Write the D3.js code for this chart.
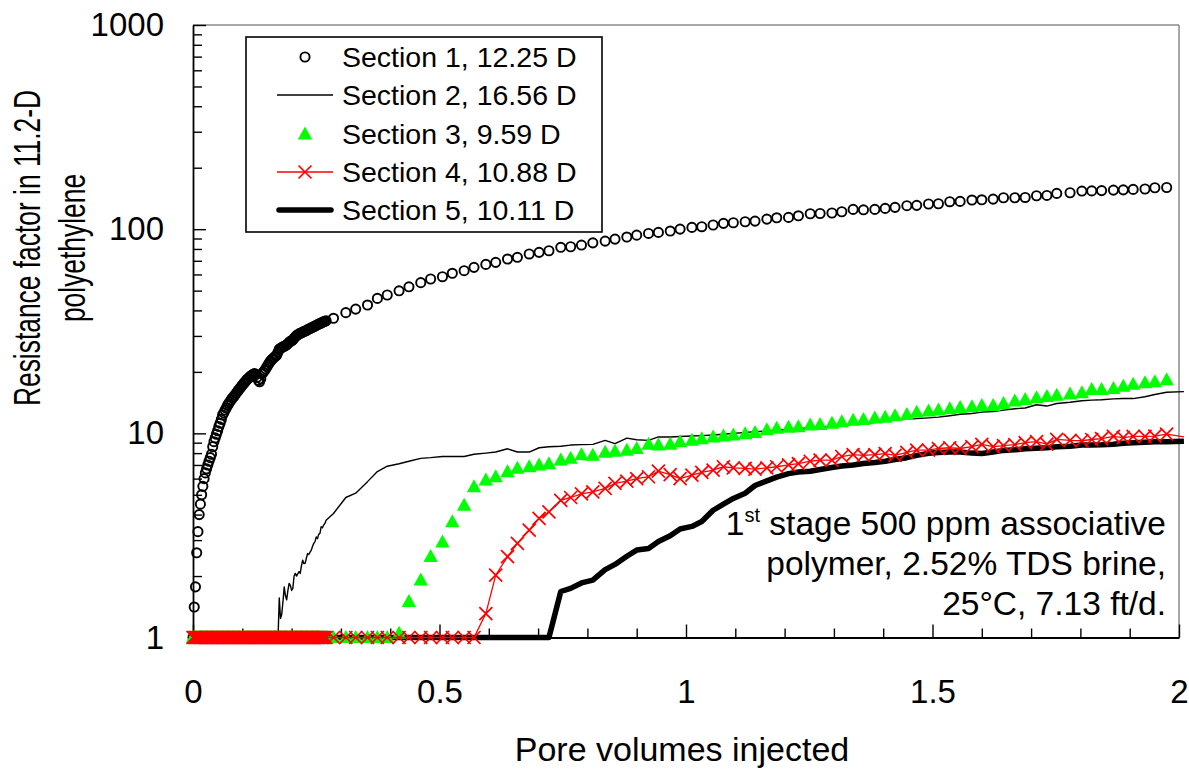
<!DOCTYPE html>
<html>
<head>
<meta charset="utf-8">
<script src="https://cdn.jsdelivr.net/npm/d3@7"></script>
<style>
  html, body { margin: 0; padding: 0; background: #fff; }
  svg { display: block; font-family: "Liberation Sans", Arial, sans-serif; }
</style>
</head>
<body>
<svg id="chart" width="1189" height="774"></svg>
<script>
// ---------------- DATA ----------------
const seriesNames = ["Section 1, 12.25 D", "Section 2, 16.56 D", "Section 3, 9.59 D", "Section 4, 10.88 D", "Section 5, 10.11 D"];
const xTickValues = [0, 0.5, 1, 1.5, 2];
const xTickLabels = ["0", "0.5", "1", "1.5", "2"];
const yTickValues = [1, 10, 100, 1000];
const yTickLabels = ["1", "10", "100", "1000"];
const xTitle = "Pore volumes injected";
const yTitleLines = ["Resistance factor in 11.2-D", "polyethylene"];
const noteLines = ["stage 500 ppm associative", "polymer, 2.52% TDS brine,", "25°C, 7.13 ft/d."];

// pore volumes: early, densely logged part
const pvEarly = [
  0,0.0025,0.005,0.0075,0.01,0.0125,0.015,0.0175,0.02,0.0225,
  0.025,0.0275,0.03,0.0325,0.035,0.0375,0.04,0.0425,0.045,0.0475,
  0.05,0.0525,0.055,0.0575,0.06,0.0625,0.065,0.0675,0.07,0.0725,
  0.075,0.0775,0.08,0.0825,0.085,0.0875,0.09,0.0925,0.095,0.0975,
  0.1,0.1025,0.105,0.1075,0.11,0.1125,0.115,0.1175,0.12,0.1225,
  0.125,0.1275,0.13,0.1325,0.135,0.1375,0.14,0.1425,0.145,0.1475,
  0.15,0.1525,0.155,0.1575,0.16,0.1625,0.165,0.1675,0.17,0.1725,
  0.175,0.1775,0.18,0.1825,0.185,0.1875,0.19,0.1925,0.195,0.1975,
  0.2,0.2025,0.205,0.2075,0.21,0.2125,0.215,0.2175,0.22,0.2225,
  0.225,0.2275,0.23,0.2325,0.235,0.2375,0.24,0.2425,0.245,0.2475,
  0.25,0.2525,0.255,0.2575,0.26,0.2625,0.265,0.2675,0.27];
// pore volumes: later, sparser part
const pvLate = [0.285,0.310,0.330,0.354,0.374,0.394,0.418,0.438,0.462,0.482,0.506,0.526,0.550,0.570,0.594,0.614,0.638,0.658,0.682,0.702,0.722,0.746,0.766,
  0.788,0.811,0.836,0.856,0.880,0.900,0.924,0.944,0.968,0.988,1.012,1.032,1.055,1.076,1.096,1.120,1.140,1.164,1.184,1.208,1.228,1.252,1.272,1.296,1.316,1.339,1.360,1.383,1.404,1.424,1.448,1.468,1.492,1.512,1.535,1.556,1.580,1.600,1.623,1.644,1.667,1.688,1.711,1.732,1.752,
  1.779,1.803,1.823,1.843,1.867,1.887,1.907,1.931,1.951,1.975,2.010];

// Section 1, 12.25 D
const sec1Early = [
  1.0,1.41,1.77,2.6,3.3,4.0,4.5,5.0,5.5,6.0,
  6.4,6.7,7.0,7.3,7.6,7.9,8.6,9.1,9.5,9.9,
  10.3,10.8,11.2,11.7,12.3,12.6,13.0,13.3,13.7,14.0,
  14.3,14.6,14.9,15.1,15.4,15.7,16.0,16.3,16.6,16.9,
  17.2,17.5,17.8,18.1,18.4,18.6,18.9,19.1,19.3,19.5,
  19.6,19.4,18.8,18.2,17.9,18.5,19.6,19.9,20.3,20.7,
  21.2,21.7,22.2,22.6,23.0,23.3,23.6,23.9,24.2,25.0,
  25.8,26.1,26.3,26.5,26.7,26.9,27.1,27.5,27.9,28.2,
  28.4,28.7,29.2,29.7,30.1,30.4,30.7,30.9,31.1,31.3,
  31.5,31.7,31.9,32.2,32.4,32.6,32.9,33.1,33.3,33.5,
  33.8,34.0,34.3,34.5,34.7,35.0,35.2,35.4,35.6];
const sec1Late = [36.6,39.0,40.6,42.5,45.8,47.6,49.9,52.2,54.7,57.0,58.5,60.8,62.6,65.0,67.2,68.8,71.4,72.8,75.6,77.0,78.4,81.5,82.0,
  83.6,85.7,87.4,89.4,91.5,93.5,95.3,96.4,97.9,100.1,102,102.8,104.8,106.8,107.5,108.7,109.5,112,113.7,114.2,116.3,119,119.3,120,121.7,125,124.4,125,126.4,127.9,130.3,130.8,132.8,133.2,136.3,136.8,138.9,139.3,140.4,142.5,142.5,143,145.8,146.3,149.7,
  150.8,153.7,154,154.5,155.4,155.8,156.6,157.3,159.5,160];

// Section 2, 16.56 D
const sec2Early = [
  1,1,1,1,1,1,1,1,1,1,
  1,1,1,1,1,1,1,1,1,1,
  1,1,1,1,1,1,1,1,1,1,
  1,1,1,1,1,1,1,1,1,1,
  1,1,1,1,1,1,1,1,1,1,
  1,1,1,1,1,1,1,1,1,1,
  1,1,1,1,1,1,1,1,1,1.0,
  1.56,1.24,1.3,1.5,1.77,1.6,1.53,1.7,1.84,1.8,
  1.7,1.74,2.0,2.06,2.0,2.05,2.1,2.06,2.25,2.39,
  2.3,2.31,2.45,2.58,2.55,2.62,2.68,2.8,2.89,2.95,
  3.11,3.05,3.2,3.24,3.49,3.45,3.55,3.62,3.75];
const sec2Late = [4.05,4.85,5.09,5.8,6.5,6.9,7.1,7.3,7.54,7.6,7.7,7.7,7.7,7.9,8.0,8.1,8.4,8.1,8.1,8.5,8.6,8.65,8.76,
  8.8,8.83,9.24,8.9,9.48,9.3,9.24,9.6,9.6,9.65,9.7,9.75,9.82,9.9,10.0,10.1,10.2,10.26,10.35,10.45,10.55,10.65,10.72,10.8,10.95,11.06,11.2,11.3,11.45,11.6,11.7,11.8,11.9,12.0,12.2,12.4,12.5,12.7,12.8,13.0,13.2,13.3,13.8,13.6,14.0,
  14.2,14.45,14.55,14.6,14.75,14.8,14.8,15.1,15.5,15.9,16.0];

// Sections 3, 4 and 5 stay at 1 during the early part
const flatEarly = [
  1,1,1,1,1,1,1,1,1,1,
  1,1,1,1,1,1,1,1,1,1,
  1,1,1,1,1,1,1,1,1,1,
  1,1,1,1,1,1,1,1,1,1,
  1,1,1,1,1,1,1,1,1,1,
  1,1,1,1,1,1,1,1,1,1,
  1,1,1,1,1,1,1,1,1,1,
  1,1,1,1,1,1,1,1,1,1,
  1,1,1,1,1,1,1,1,1,1,
  1,1,1,1,1,1,1,1,1,1,
  1,1,1,1,1,1,1,1,1];

// Section 3, 9.59 D
const sec3Late = [1,1,1,1,1,1,1.05,1.5,1.91,2.49,2.94,3.69,4.45,5.48,5.9,6.13,6.49,6.74,6.86,7.0,7.1,7.4,7.54,
  7.86,7.8,8.07,8.17,8.27,8.43,8.83,8.76,8.83,9.1,9.24,9.42,9.6,9.7,9.8,9.96,10.1,10.4,10.6,10.7,10.77,11.0,11.06,11.2,11.38,11.6,11.7,11.9,12.0,12.2,12.35,12.7,12.85,13.0,13.2,13.4,13.5,13.7,13.7,14.0,14.4,14.65,14.95,15.15,15.35,
  15.6,15.8,16.4,16.4,16.6,17.0,17.4,17.7,17.9,18.3];

// Section 4, 10.88 D
const sec4Late = [1,1,1,1,1,1,1,1,1,1,1,1,1,1,1.31,2.02,2.49,2.89,3.36,3.83,4.12,4.7,4.85,
  5.05,5.17,5.37,5.69,5.83,6.0,6.13,6.53,6.28,6.0,6.24,6.44,6.6,6.86,6.77,6.74,6.68,6.77,6.86,7.0,7.1,7.3,7.4,7.4,7.7,7.86,7.8,7.86,7.96,7.8,8.07,8.27,8.27,8.43,8.5,8.43,8.6,8.83,8.6,8.7,8.8,9.0,9.1,8.85,9.35,
  9.24,9.2,9.33,9.42,9.67,9.53,9.67,9.67,9.7,9.9,9.6];

// Section 5, 10.11 D
const sec5Late = [1,1,1,1,1,1,1,1,1,1,1,1,1,1,1,1,1,1,1,1,1,1.68,1.74,
  1.85,1.91,2.15,2.28,2.5,2.68,2.73,2.95,3.15,3.4,3.5,3.7,4.2,4.5,4.8,5.09,5.55,5.85,6.1,6.35,6.47,6.52,6.65,6.8,6.92,7.0,7.12,7.2,7.3,7.45,7.6,7.8,7.98,8.05,8.1,8.1,8.0,7.96,8.1,8.25,8.3,8.4,8.45,8.5,8.6,
  8.65,8.76,8.76,8.78,8.85,8.95,9.0,9.05,9.1,9.1,9.15];

// ---------------- CHART ----------------
const W = 1189, H = 774;
const plot = { left: 193, right: 1179, top: 25, bottom: 637.5 };
const FONT = '"Liberation Sans", Arial, sans-serif';

const svg = d3.select("#chart");
svg.append("rect").attr("width", W).attr("height", H).attr("fill", "#fff");

const x = d3.scaleLinear().domain([0, 2]).range([plot.left, plot.right]);
const y = d3.scaleLog().domain([1, 1000]).range([plot.bottom, plot.top]);

function pts(early, late) {
  const a = [];
  const n1 = Math.min(pvEarly.length, early.length);
  for (let i = 0; i < n1; i++) a.push([pvEarly[i], early[i]]);
  const n2 = Math.min(pvLate.length, late.length);
  for (let i = 0; i < n2; i++) a.push([pvLate[i], late[i]]);
  return a;
}
const s1 = pts(sec1Early, sec1Late).filter(d => d[0] <= 2);
const s2 = pts(sec2Early, sec2Late);
const s3 = pts(flatEarly, sec3Late).filter(d => d[0] <= 2);
const s4 = pts(flatEarly, sec4Late);
const s5 = pts(flatEarly, sec5Late);

// minor tick positions
const xMinor = d3.range(0, 2.0001, 0.1).filter(v => Math.abs(v * 2 - Math.round(v * 2)) > 1e-6);
const yMinor = [];
[1, 10, 100].forEach(d => { for (let k = 2; k <= 9; k++) yMinor.push(d * k); });

// frame: top/right grey
svg.append("line").attr("x1", plot.left).attr("x2", plot.right).attr("y1", plot.top).attr("y2", plot.top)
  .attr("stroke", "#8a8a8a").attr("stroke-width", 1.5);
svg.append("line").attr("x1", plot.right).attr("x2", plot.right).attr("y1", plot.top).attr("y2", plot.bottom)
  .attr("stroke", "#8a8a8a").attr("stroke-width", 1.5);

// x axis
const gx = svg.append("g").attr("transform", `translate(0,${plot.bottom})`)
  .call(d3.axisBottom(x).tickValues(xTickValues).tickFormat((d, i) => xTickLabels[i])
    .tickSizeInner(-13).tickSizeOuter(0).tickPadding(42));
const gxm = svg.append("g").attr("transform", `translate(0,${plot.bottom})`)
  .call(d3.axisBottom(x).tickValues(xMinor).tickFormat("").tickSizeInner(-9).tickSizeOuter(0));
gxm.select(".domain").remove();

// y axis
const gy = svg.append("g").attr("transform", `translate(${plot.left},0)`)
  .call(d3.axisLeft(y).tickValues(yTickValues).tickFormat((d, i) => yTickLabels[i])
    .tickSizeInner(-13).tickSizeOuter(0).tickPadding(29));
const gym = svg.append("g").attr("transform", `translate(${plot.left},0)`)
  .call(d3.axisLeft(y).tickValues(yMinor).tickFormat("").tickSizeInner(-9).tickSizeOuter(0));
gym.select(".domain").remove();

[gx, gy, gxm, gym].forEach(g => {
  g.selectAll("line").attr("stroke", "#000").attr("stroke-width", 1.4);
  g.selectAll(".domain").attr("stroke", "#000").attr("stroke-width", 1.8);
  g.selectAll("text").attr("font-family", FONT).attr("font-size", 33).attr("fill", "#000");
});

const line = d3.line().x(d => x(d[0])).y(d => y(d[1]));

// Section 5: thick black line
svg.append("path").datum(s5).attr("d", line).attr("fill", "none")
  .attr("stroke", "#000").attr("stroke-width", 5.5).attr("stroke-linejoin", "round");

// Section 2: thin black line
svg.append("path").datum(s2).attr("d", line).attr("fill", "none")
  .attr("stroke", "#000").attr("stroke-width", 1.4).attr("stroke-linejoin", "round");

// Section 1: open circles
svg.append("g").selectAll("circle").data(s1).join("circle")
  .attr("cx", d => x(d[0])).attr("cy", d => y(d[1])).attr("r", 4.6)
  .attr("fill", "none").attr("stroke", "#000").attr("stroke-width", 1.9);

// Section 3: green triangles
const triPath = "M0,-7.5L7.2,5.5L-7.2,5.5Z";
svg.append("g").selectAll("path").data(s3).join("path")
  .attr("d", triPath).attr("transform", d => `translate(${x(d[0])},${y(d[1])})`)
  .attr("fill", "#00ff00").attr("stroke", "none");

// Section 4: red line with X markers
svg.append("path").datum(s4).attr("d", line).attr("fill", "none")
  .attr("stroke", "#ff0000").attr("stroke-width", 1.3);
const xPath = "M-6.5,-6.5L6.5,6.5M-6.5,6.5L6.5,-6.5";
svg.append("g").selectAll("path").data(s4.filter(d => d[0] <= 2)).join("path")
  .attr("d", xPath).attr("transform", d => `translate(${x(d[0])},${y(d[1])})`)
  .attr("fill", "none").attr("stroke", "#ff0000").attr("stroke-width", 1.7);

// ---------------- LEGEND ----------------
const lg = svg.append("g");
lg.append("rect").attr("x", 246).attr("y", 37).attr("width", 356).attr("height", 195)
  .attr("fill", "#fff").attr("stroke", "#000").attr("stroke-width", 1.6);
const rowY = [57, 95, 134, 172, 210];
const symX = 305, l1 = 277, l2 = 333, textX = 342;
seriesNames.forEach((name, i) => {
  lg.append("text").attr("x", textX).attr("y", rowY[i] + 10).text(name)
    .attr("font-family", FONT).attr("font-size", 28.5).attr("fill", "#000");
});
lg.append("circle").attr("cx", symX).attr("cy", rowY[0]).attr("r", 4.6)
  .attr("fill", "none").attr("stroke", "#000").attr("stroke-width", 1.9);
lg.append("line").attr("x1", l1).attr("x2", l2).attr("y1", rowY[1]).attr("y2", rowY[1])
  .attr("stroke", "#000").attr("stroke-width", 1.4);
lg.append("path").attr("d", triPath).attr("transform", `translate(${symX},${rowY[2]})`).attr("fill", "#00ff00");
lg.append("line").attr("x1", l1).attr("x2", l2).attr("y1", rowY[3]).attr("y2", rowY[3])
  .attr("stroke", "#ff0000").attr("stroke-width", 1.3);
lg.append("path").attr("d", xPath).attr("transform", `translate(${symX},${rowY[3]})`)
  .attr("fill", "none").attr("stroke", "#ff0000").attr("stroke-width", 1.7);
lg.append("line").attr("x1", l1 + 2).attr("x2", l2 - 2).attr("y1", rowY[4]).attr("y2", rowY[4])
  .attr("stroke", "#000").attr("stroke-width", 5.5).attr("stroke-linecap", "round");

// ---------------- TITLES ----------------
svg.append("text").attr("x", (plot.left + plot.right) / 2 - 4).attr("y", 761)
  .attr("text-anchor", "middle").attr("font-family", FONT).attr("font-size", 34).text(xTitle);

// y title: condensed along its reading direction
svg.append("text").attr("transform", "translate(40,248) rotate(-90) scale(0.713,1)")
  .attr("text-anchor", "middle").attr("font-family", FONT).attr("font-size", 37).text(yTitleLines[0]);
svg.append("text").attr("transform", "translate(85,248) rotate(-90) scale(0.713,1)")
  .attr("text-anchor", "middle").attr("font-family", FONT).attr("font-size", 37).text(yTitleLines[1]);

// annotation
const note = svg.append("g").attr("font-family", FONT).attr("font-size", 33.5).attr("text-anchor", "end");
const t1 = note.append("text").attr("x", 1166).attr("y", 535);
t1.append("tspan").text("1");
t1.append("tspan").attr("font-size", 20).attr("dy", -13).text("st");
t1.append("tspan").attr("dy", 13).text(" " + noteLines[0]);
note.append("text").attr("x", 1166).attr("y", 575).text(noteLines[1]);
note.append("text").attr("x", 1166).attr("y", 615).text(noteLines[2]);
</script>
</body>
</html>
